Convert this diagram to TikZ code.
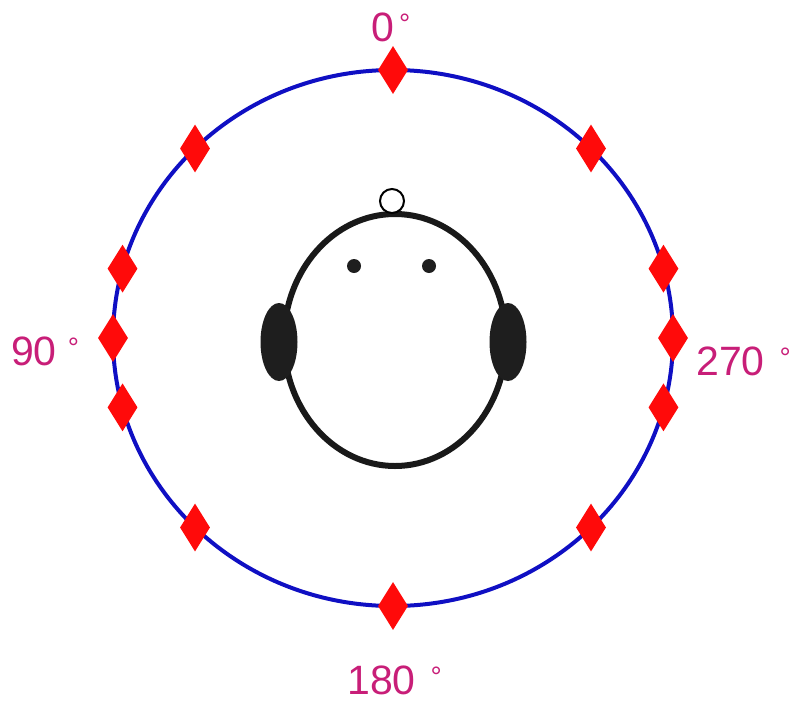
\documentclass[tikz,border=0pt]{standalone}
\usepackage{fontspec}
\setmainfont{Liberation Sans}
\usetikzlibrary{shapes.geometric,calc}
\definecolor{ringblue}{RGB}{15,15,195}
\definecolor{speaker}{RGB}{255,10,10}
\definecolor{anglelabel}{RGB}{200,30,120}
\definecolor{earfill}{RGB}{30,30,30}
\newcommand{\degsign}{\raisebox{8pt}{\fontsize{28}{28}\selectfont °}}
\tikzset{
  ring/.style={draw=ringblue, line width=4pt},
  spk/.style={diamond, fill=speaker, draw=none, inner sep=0pt,
              minimum width=30pt, minimum height=48pt},
  angtxt/.style={text=anglelabel, font=\fontsize{41}{41}\selectfont, inner sep=0pt},
  headline/.style={draw=black!90, line width=6pt},
  ear/.style={ellipse, fill=earfill, draw=none, inner sep=0pt,
              minimum width=37pt, minimum height=78pt},
  eye/.style={circle, fill=earfill, draw=none, inner sep=0pt, minimum size=14pt},
  nose/.style={circle, draw=black, fill=white, line width=2pt, inner sep=0pt, minimum size=24pt}
}
\begin{document}
\begin{tikzpicture}[x=1pt,y=-1pt]
  \useasboundingbox (0,0) rectangle (791,704);
  % loudspeaker ring
  \coordinate (c) at (393,338);
  \draw[ring] (c) ellipse [x radius=280, y radius=268];
  % loudspeakers placed on the ring
  \foreach \a/\n in {90/s0, 135/s45, 165/s75, 180/s90, 195/s105, 225/s135,
                     270/s180, 315/s225, 345/s255, 0/s270, 15/s285, 45/s315}
    \node[spk] (\n) at ($(c)+({280*cos(\a)},{-268*sin(\a)})$) {};
  % head
  \node[headline, ellipse, minimum width=222pt, minimum height=252pt, inner sep=0pt] (head) at (395,340) {};
  \node[nose] (nosetip) at (392,201) {};
  \node[ear] (earL) at (279,342) {};
  \node[ear] (earR) at (508,342) {};
  \node[eye] (eyeL) at (354,266) {};
  \node[eye] (eyeR) at (429,266) {};
  % angle labels
  \node[angtxt, anchor=base west] (l0) at (371,41) {0\hspace{5pt}\degsign};
  \node[angtxt, anchor=base west] (l90) at (11,365) {90\hspace{11pt}\degsign};
  \node[angtxt, anchor=base west] (l270) at (696,375) {270\hspace{15pt}\degsign};
  \node[angtxt, anchor=base west] (l180) at (347,694) {180\hspace{15pt}\degsign};
\end{tikzpicture}
\end{document}
